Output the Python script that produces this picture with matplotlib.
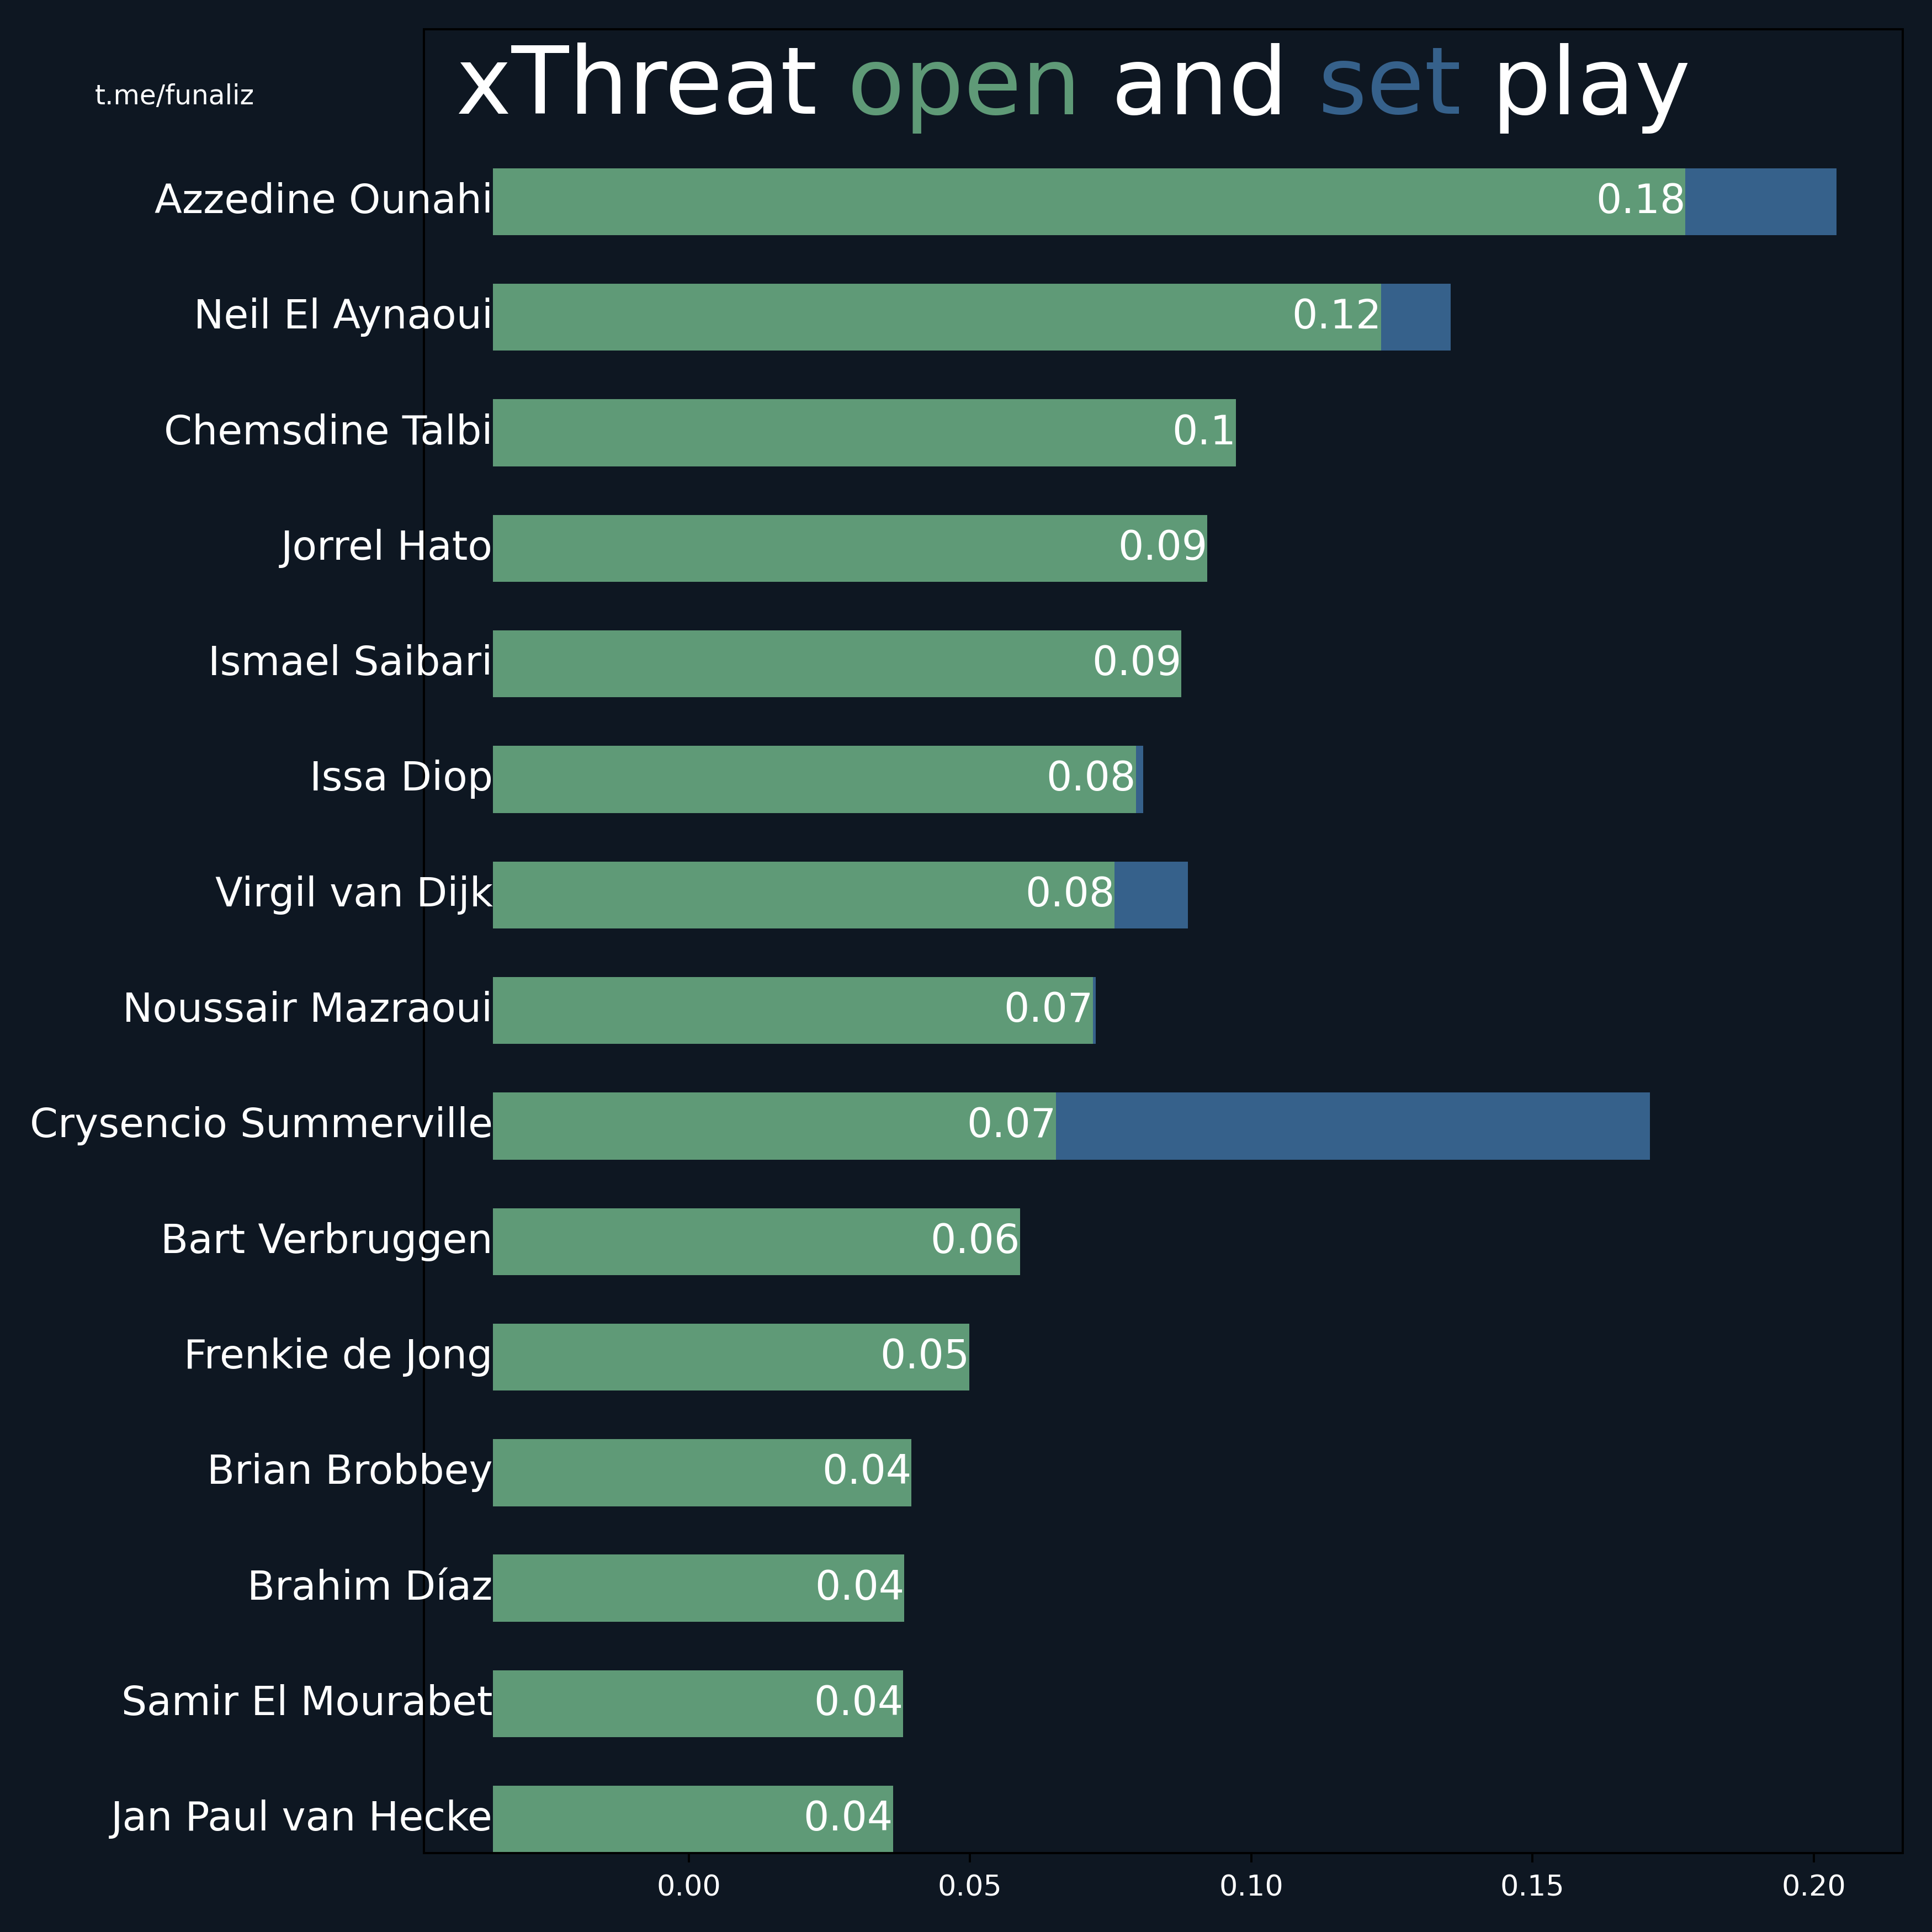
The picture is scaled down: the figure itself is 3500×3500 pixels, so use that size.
import matplotlib
matplotlib.use('Agg')
import numpy as np
import matplotlib.pyplot as plt

BG = '#0e1722'
GREEN = '#5f9a77'
BLUE = '#36618b'

players = ['Azzedine Ounahi', 'Neil El Aynaoui', 'Chemsdine Talbi', 'Jorrel Hato',
           'Ismael Saibari', 'Issa Diop', 'Virgil van Dijk', 'Noussair Mazraoui',
           'Crysencio Summerville', 'Bart Verbruggen', 'Frenkie de Jong',
           'Brian Brobbey', 'Brahim Díaz', 'Samir El Mourabet', 'Jan Paul van Hecke']
xt_open = [0.1772, 0.1231, 0.0973, 0.0922, 0.0876, 0.0795, 0.0757, 0.0719,
           0.0653, 0.0589, 0.0499, 0.0396, 0.0383, 0.0381, 0.0363]
xt_set = [0.0268, 0.0123, 0.0, 0.0, 0.0, 0.0013, 0.0130, 0.0004,
          0.1056, 0.0, 0.0, 0.0, 0.0, 0.0, 0.0]
xticks = [0.00, 0.05, 0.10, 0.15, 0.20]
title_parts = [('xThreat ', 'white'), ('open', GREEN), (' and ', 'white'),
               ('set', BLUE), (' play', 'white')]


def draw_title(fig, parts, x, y, size):
    """Write coloured title pieces one after the other."""
    renderer = fig.canvas.get_renderer()
    inv = fig.transFigure.inverted()
    for txt, col in parts:
        t = fig.text(x, y, txt, color=col, fontsize=size, va='baseline', ha='left')
        bb = t.get_window_extent(renderer=renderer)
        x = inv.transform((bb.x1, bb.y0))[0]


fig = plt.figure(figsize=(10, 10), dpi=350, facecolor=BG)
ax = fig.add_axes([0.2194, 0.041, 0.7654, 0.944])
ax.set_facecolor(BG)

start = -0.03485
y = np.arange(len(players))
op = np.array(xt_open)
st = np.array(xt_set)
ax.barh(y, op - start, left=start, height=0.58, color=GREEN)
ax.barh(y, st, left=op, height=0.58, color=BLUE)

for i in range(len(players)):
    ax.text(start, i, players[i], ha='right', va='center', color='white', fontsize=15)
    ax.text(op[i], i, f'{round(op[i], 2):g}', ha='right', va='center',
            color='white', fontsize=15)

ax.set_xlim(-0.0471, 0.2158)
ax.set_ylim(len(players) - 1 + 0.29, -1.495)
ax.set_xticks(xticks)
ax.set_xticklabels([f'{v:.2f}' for v in xticks], color='white', fontsize=10.8)
ax.tick_params(axis='x', pad=4.5)
ax.set_yticks([])
for s in ax.spines.values():
    s.set_color('black')

fig.text(0.049, 0.946, 't.me/funaliz', color='white', fontsize=10, va='baseline')
draw_title(fig, title_parts, 0.236, 0.941, 35)

fig.savefig('out.png', facecolor=BG)
